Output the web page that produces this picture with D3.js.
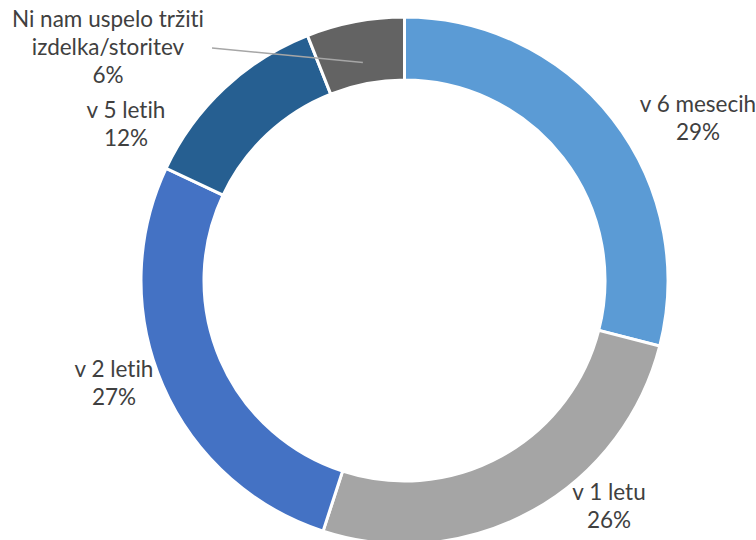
<!DOCTYPE html>
<html><head><meta charset="utf-8">
<script src="https://cdn.jsdelivr.net/npm/d3@7"></script>
<style>html,body{margin:0;padding:0;background:#fff;} text{font-variant-ligatures:none;font-feature-settings:"liga" 0;}</style>
</head><body>
<svg id="c" width="756" height="540"></svg>
<script>
const categories = ["v 6 mesecih", "v 1 letu", "v 2 letih", "v 5 letih", "Ni nam uspelo tržiti izdelka/storitev"];
const values = [29, 26, 27, 12, 6];
const labelLines = [["v 6 mesecih"], ["v 1 letu"], ["v 2 letih"], ["v 5 letih"], ["Ni nam uspelo tržiti", "izdelka/storitev"]];
const colors = ["#5B9BD5", "#A5A5A5", "#4472C4", "#265F91", "#636363"];

const svg = d3.select("#c");
const cx = 404.5, cy = 280.5, rOuter = 263.5, rInner = 200.5;
const g = svg.append("g").attr("transform", `translate(${cx},${cy})`);
const pie = d3.pie().sort(null).value(d => d)(values);
const arc = d3.arc().innerRadius(rInner).outerRadius(rOuter);
g.selectAll("path").data(pie).join("path")
  .attr("d", arc).attr("fill", (d, i) => colors[i])
  .attr("stroke", "#fff").attr("stroke-width", 3).attr("stroke-linejoin", "miter");

const labelPos = [[698, 112], [609, 500], [114, 377], [126, 118], [108, 27]];
const lh = 28;
const total = d3.sum(values);
labelPos.forEach((p, i) => {
  const lines = labelLines[i].concat([Math.round(values[i] / total * 100) + "%"]);
  const t = svg.append("text").attr("text-anchor", "middle")
    .attr("font-family", "Lato, 'Open Sans', sans-serif").attr("font-size", 22.5)
    .attr("fill", "#404040");
  lines.forEach((l, j) => t.append("tspan").attr("x", p[0]).attr("y", p[1] + j * lh).text(l));
});
const mid = pie[4];
const ang = (mid.startAngle + mid.endAngle) / 2;
const rr = (rInner + rOuter) / 2 - 10;
svg.append("line").attr("x1", 212).attr("y1", 48)
  .attr("x2", cx + Math.sin(ang) * rr).attr("y2", cy - Math.cos(ang) * rr)
  .attr("stroke", "#A6A6A6").attr("stroke-width", 1.5);
</script>
</body></html>
